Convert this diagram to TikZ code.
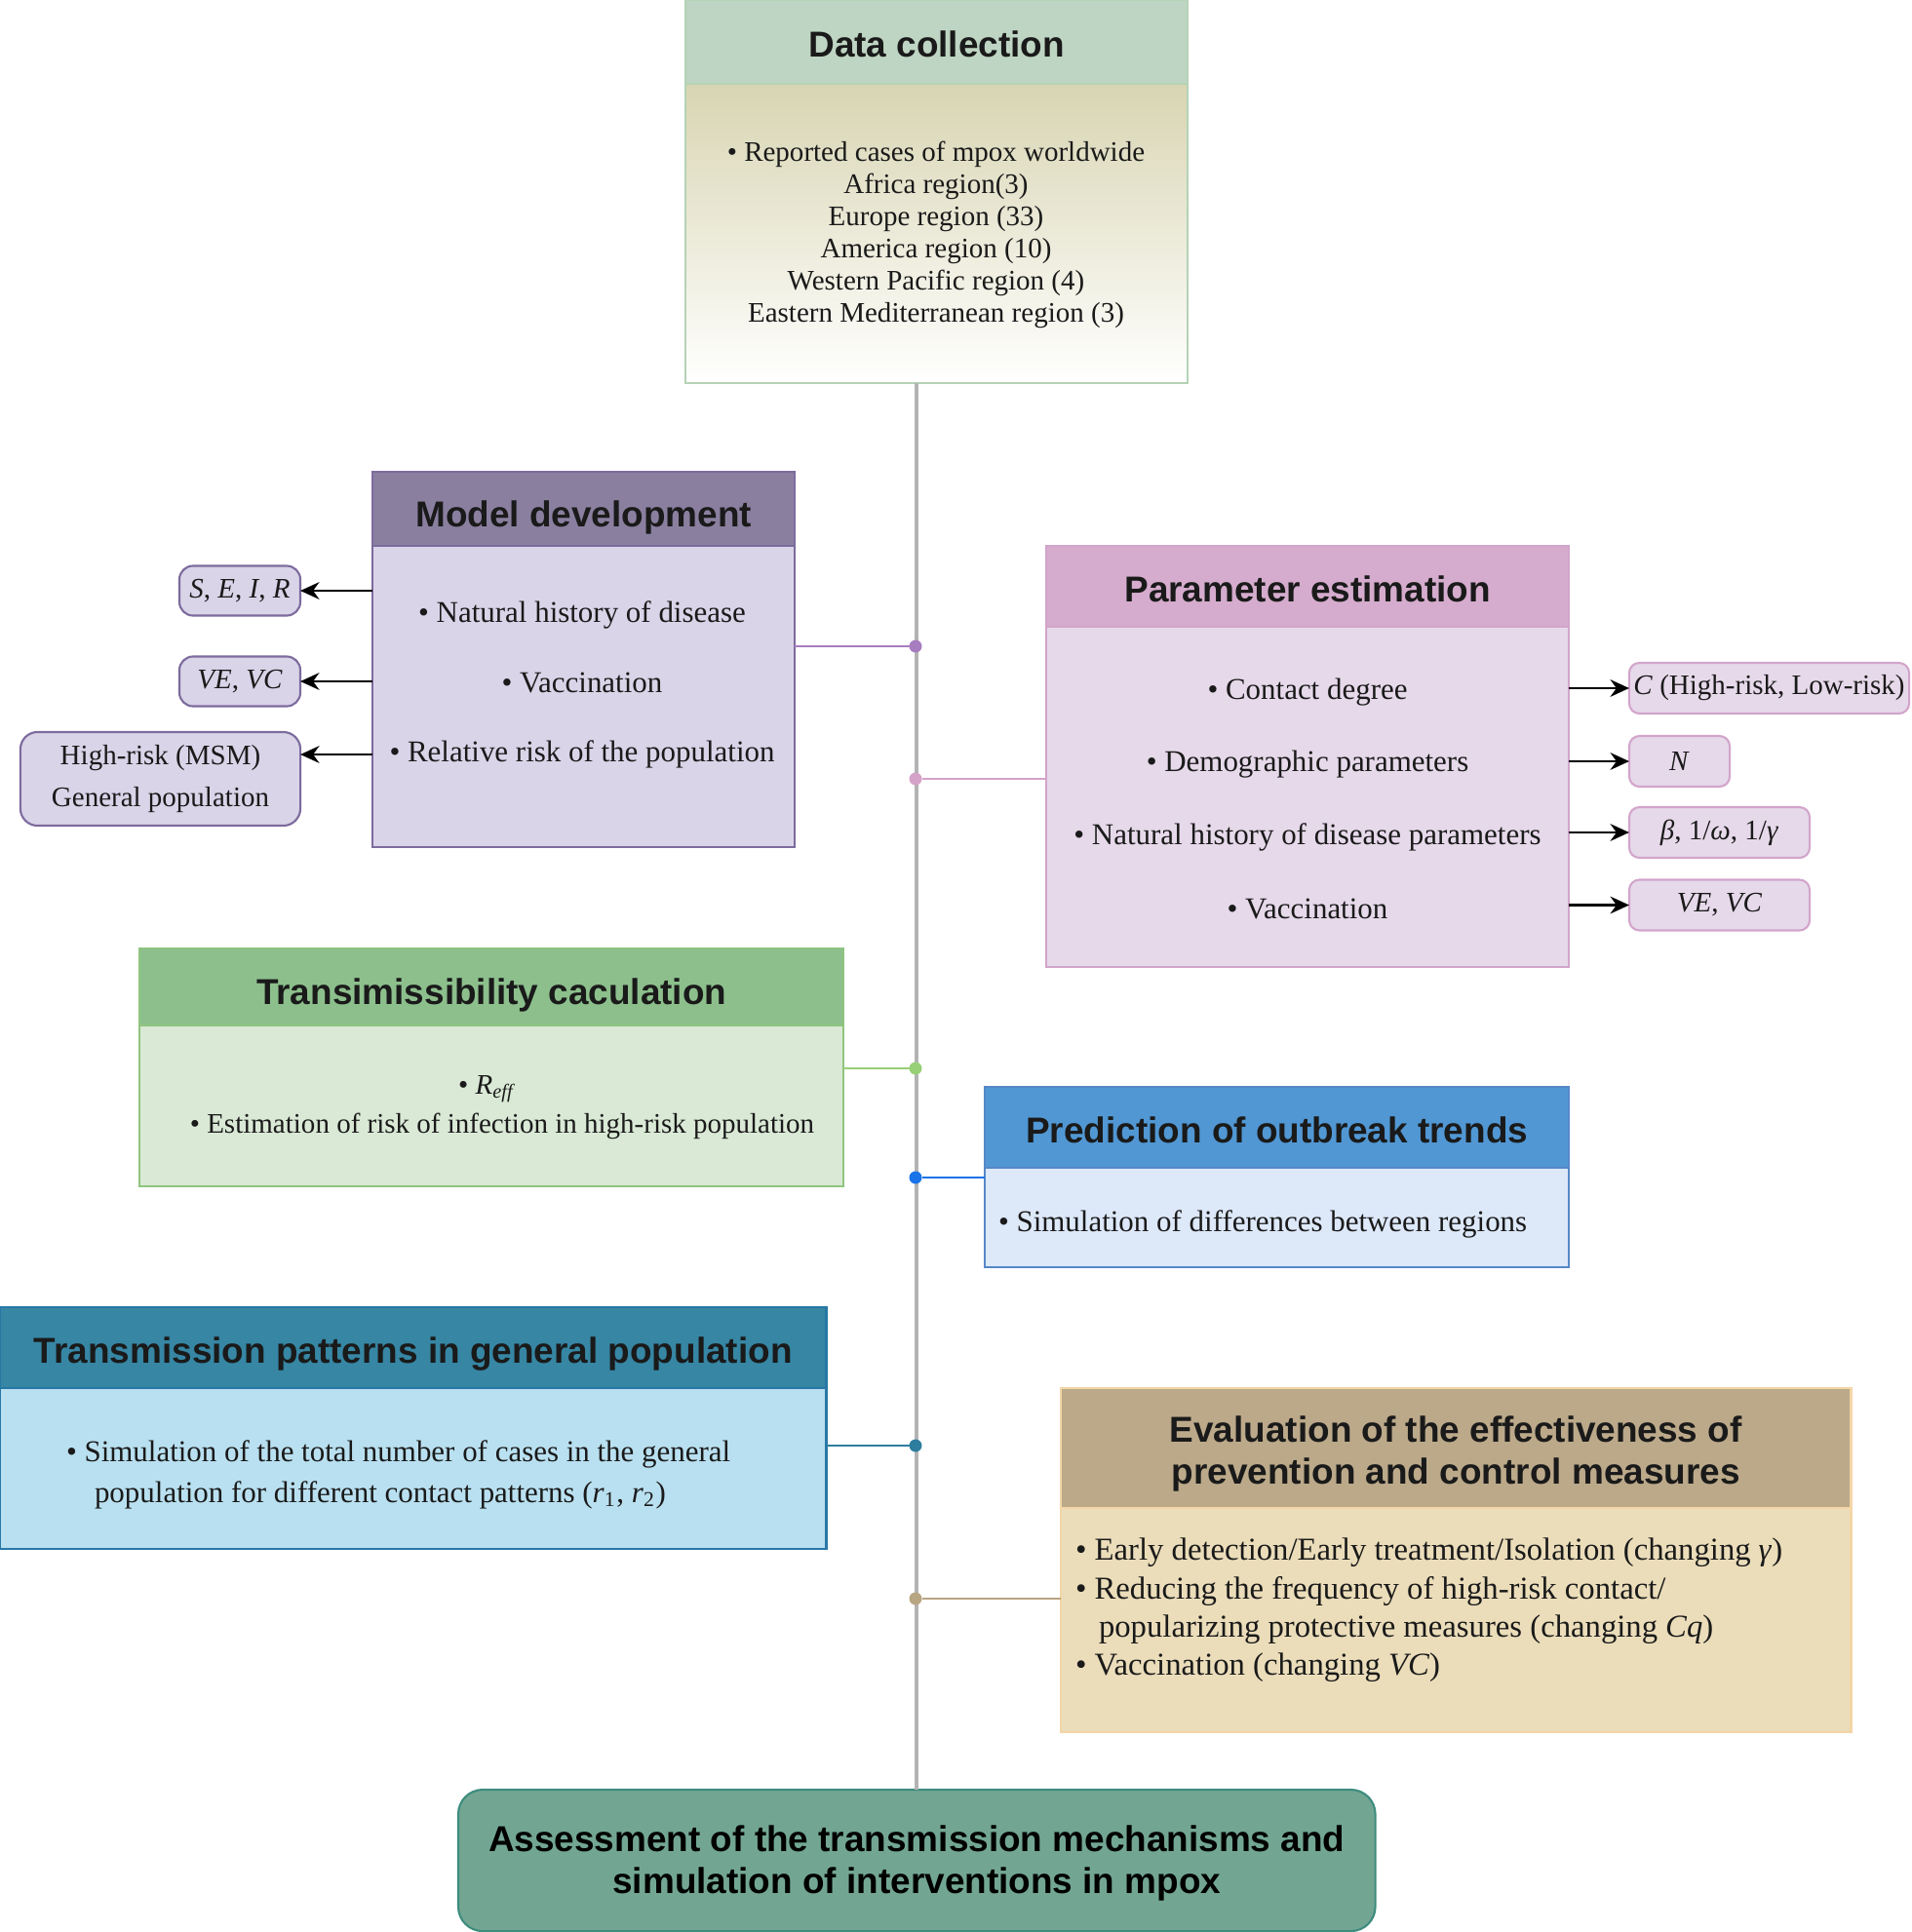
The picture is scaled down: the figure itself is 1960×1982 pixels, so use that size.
\documentclass[tikz,border=0pt]{standalone}
\usepackage{fontspec}
\setmainfont{Liberation Serif}
\newfontfamily\hf{Liberation Sans}
\usetikzlibrary{arrows.meta}
\definecolor{dch}{HTML}{BFD5C3}\definecolor{dcbody}{HTML}{D8D5B2}\definecolor{dcb}{HTML}{B5D3B6}
\definecolor{mdh}{HTML}{8A7F9F}\definecolor{mdbody}{HTML}{D9D4E8}\definecolor{mdb}{HTML}{7D6B9D}
\definecolor{peh}{HTML}{D5ACCD}\definecolor{pebody}{HTML}{E6D9EA}\definecolor{peb}{HTML}{D2A5CB}
\definecolor{trh}{HTML}{8CBF8C}\definecolor{trbody}{HTML}{DAE9D6}\definecolor{trb}{HTML}{8FC47F}
\definecolor{prh}{HTML}{5197D3}\definecolor{prbody}{HTML}{DDE8F9}\definecolor{prb}{HTML}{5588C8}
\definecolor{tph}{HTML}{3686A4}\definecolor{tpbody}{HTML}{B9E0F0}\definecolor{tpb}{HTML}{2878A6}
\definecolor{evh}{HTML}{BBA98A}\definecolor{evbody}{HTML}{EBDDBA}\definecolor{evb}{HTML}{F3D5A6}
\definecolor{fnc}{HTML}{72A693}\definecolor{fnb}{HTML}{3E8C7E}
\definecolor{vl}{HTML}{B3B3B3}\definecolor{ca}{HTML}{A77DC0}\definecolor{cb}{HTML}{D5A2C9}
\definecolor{cc}{HTML}{97D077}\definecolor{cd}{HTML}{1A73E8}\definecolor{ce}{HTML}{2E7D9E}
\definecolor{cf}{HTML}{B8A582}\definecolor{tc}{HTML}{1A1A1A}
\begin{document}
\begin{tikzpicture}[x=0.01cm,y=-0.01cm,
  every node/.style={inner sep=0pt,outer sep=0pt},
  bx/.style={draw,line width=0.6pt,anchor=north west,rectangle},
  hd/.style={draw,line width=0.6pt,anchor=north west,rectangle},
  ttl/.style={font=\hf\bfseries\fontsize{10.5}{12.4}\selectfont,text=tc,align=center},
  txt/.style={font=\fontsize{8.25}{9.39}\selectfont,text=tc,align=center},
  txtb/.style={font=\fontsize{8.8}{10}\selectfont,text=tc,align=center},
  side/.style={draw,line width=0.6pt,rounded corners=4pt,font=\fontsize{8.25}{12.2}\selectfont,text=tc,align=center},
  arr/.style={-{Stealth[length=5.5pt,width=5pt]},line width=0.8pt,black},
  conn/.style={line width=0.6pt},
  dot/.style={circle,minimum size=0.13cm,fill=#1}]
\useasboundingbox (0,0) rectangle (1960,1982);

% Data collection
\node[bx,draw=dcb,top color=dcbody,bottom color=white,minimum width=5.15cm,minimum height=3.07cm] (data) at (703,86) {};
\node[hd,fill=dch,draw=dcb,minimum width=5.15cm,minimum height=0.86cm] (datah) at (703,0) {};
\node[ttl,yshift=-1.5pt*0+-0.02cm] (datat) at (datah.center) {Data collection};
\node[txt] (datax) at (960,241) {• Reported cases of mpox worldwide\\Africa region(3)\\Europe region (33)\\America region (10)\\Western Pacific region (4)\\Eastern Mediterranean region (3)};

% Final box
\node[bx,rounded corners=0.25cm,fill=fnc,draw=fnb,minimum width=9.4cm,minimum height=1.45cm] (final) at (470,1836) {};
\node[ttl,font=\hf\bfseries\fontsize{10.5}{12.2}\selectfont,text=black,yshift=-0.03cm] (finalt) at (final.center) {Assessment of the transmission mechanisms and\\simulation of interventions in mpox};

% vertical line
\draw[vl,line width=1.1pt] (final.north |- data.south) -- (final.north);

% Model development
\node[bx,fill=mdbody,draw=mdb,minimum width=4.33cm,minimum height=3.85cm] (model) at (382,484) {};
\node[hd,fill=mdh,draw=mdb,minimum width=4.33cm,minimum height=0.76cm] (modelh) at (382,484) {};
\node[ttl,yshift=-0.09cm] (modelt) at (modelh.center) {Model development};
\node[txtb] (m1) at (597,631) {• Natural history of disease};
\node[txtb] (m2) at (597,700) {• Vaccination};
\node[txtb] (m3) at (597,774) {• Relative risk of the population};
\node[side,fill=mdbody,draw=mdb,minimum width=1.24cm,minimum height=0.51cm] (s1) at (246,606) {\textit{S}, \textit{E}, \textit{I}, \textit{R}};
\node[side,fill=mdbody,draw=mdb,minimum width=1.24cm,minimum height=0.51cm] (s2) at (246,699) {\textit{VE}, \textit{VC}};
\node[side,rounded corners=5pt,fill=mdbody,draw=mdb,minimum width=2.87cm,minimum height=0.96cm] (s3) at (164.5,799) {High-risk (MSM)\\General population};
\draw[arr] (model.west |- s1) -- (s1);
\draw[arr] (model.west |- s2) -- (s2);
\draw[arr] (model.west |- m3) -- (s3.east |- m3);

% Parameter estimation
\node[bx,fill=pebody,draw=peb,minimum width=5.36cm,minimum height=4.32cm] (param) at (1073,560) {};
\node[hd,fill=peh,draw=peb,minimum width=5.36cm,minimum height=0.83cm] (paramh) at (1073,560) {};
\node[ttl,yshift=-0.03cm] (paramt) at (paramh.center) {Parameter estimation};
\node[txtb] (p1) at (1341,710) {• Contact degree};
\node[txtb] (p2) at (1341,784) {• Demographic parameters};
\node[txtb] (p3) at (1341,859) {• Natural history of disease parameters};
\node[txtb] (p4) at (1341,932) {• Vaccination};
\node[side,rounded corners=3pt,fill=pebody,draw=peb,minimum width=2.87cm,minimum height=0.52cm] (r1) at (1814.5,706) {\textit{C} (High-risk, Low-risk)};
\node[side,rounded corners=3pt,fill=pebody,draw=peb,minimum width=1.03cm,minimum height=0.52cm] (r2) at (1722.5,781) {\textit{N}};
\node[side,rounded corners=3pt,fill=pebody,draw=peb,minimum width=1.85cm,minimum height=0.52cm] (r3) at (1763.5,854) {\textit{β}, 1/\textit{ω}, 1/\textit{γ}};
\node[side,rounded corners=3pt,fill=pebody,draw=peb,minimum width=1.85cm,minimum height=0.52cm] (r4) at (1763.5,928.5) {\textit{VE}, \textit{VC}};
\draw[arr] (param.east |- r1) -- (r1);
\draw[arr] (param.east |- r2) -- (r2);
\draw[arr] (param.east |- r3) -- (r3);
\draw[arr] (param.east |- r4) -- (r4);

% Transimissibility
\node[bx,fill=trbody,draw=trb,minimum width=7.22cm,minimum height=2.44cm] (trans) at (143,973) {};
\node[hd,fill=trh,draw=trb,minimum width=7.22cm,minimum height=0.79cm] (transh) at (143,973) {};
\node[ttl,yshift=-0.08cm] (transt) at (transh.center) {Transimissibility caculation};
\node[txt] (t1) at (500,1117) {• \textit{R}\textsubscript{\textit{eff}}};
\node[txt] (t2) at (515,1155) {• Estimation of risk of infection in high-risk population};

% Prediction
\node[bx,fill=prbody,draw=prb,minimum width=5.99cm,minimum height=1.85cm] (pred) at (1010,1115) {};
\node[hd,fill=prh,draw=prb,minimum width=5.99cm,minimum height=0.83cm] (predh) at (1010,1115) {};
\node[ttl,yshift=-0.03cm] (predt) at (predh.center) {Prediction of outbreak trends};
\node[txtb,anchor=west] (q1) at (1024,1256) {• Simulation of differences between regions};

% Transmission patterns
\node[bx,fill=tpbody,draw=tpb,minimum width=8.47cm,minimum height=2.48cm] (tp) at (0,1341) {};
\node[hd,fill=tph,draw=tpb,minimum width=8.47cm,minimum height=0.83cm] (tph) at (0,1341) {};
\node[ttl,yshift=-0.06cm] (tpt) at (tph.center) {Transmission patterns in general population};
\node[txt,align=left,anchor=west,font=\fontsize{8.8}{11.9}\selectfont] (g1) at (68,1513) {• Simulation of the total number of cases in the general\\\hspace*{0.29cm}population for different contact patterns (\textit{r}\textsubscript{1}, \textit{r}\textsubscript{2})};

% Evaluation
\node[bx,fill=evbody,draw=evb,minimum width=8.10cm,minimum height=3.53cm] (eval) at (1088,1424) {};
\node[hd,fill=evh,draw=evb,minimum width=8.10cm,minimum height=1.23cm] (evalh) at (1088,1424) {};
\node[ttl,yshift=-0.06cm] (evalt) at (evalh.center) {Evaluation of the effectiveness of\\prevention and control measures};
\node[txt,align=left,anchor=west,font=\fontsize{9.3}{11.2}\selectfont] (e1) at (1103,1652) {• Early detection/Early treatment/Isolation (changing \textit{γ})\\• Reducing the frequency of high-risk contact/\\\hspace*{0.24cm}popularizing protective measures (changing \textit{Cq})\\• Vaccination (changing \textit{VC})};

% dots and connectors
\node[dot=ca] (d1) at (939,663) {};
\node[dot=cb] (d2) at (939,799) {};
\node[dot=cc] (d3) at (939,1096) {};
\node[dot=cd] (d4) at (939,1208) {};
\node[dot=ce] (d5) at (939,1483) {};
\node[dot=cf] (d6) at (939,1640) {};
\draw[conn,ca] (model.east |- d1) -- (d1);
\draw[conn,cb] (param.west |- d2) -- (d2);
\draw[conn,cc] (trans.east |- d3) -- (d3);
\draw[conn,cd] (pred.west |- d4) -- (d4);
\draw[conn,ce] (tp.east |- d5) -- (d5);
\draw[conn,cf] (eval.west |- d6) -- (d6);
\end{tikzpicture}
\end{document}
